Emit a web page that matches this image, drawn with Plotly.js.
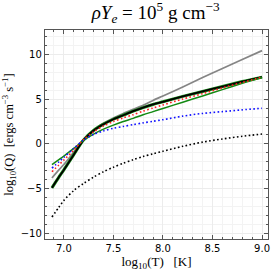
<!DOCTYPE html>
<html>
<head>
<meta charset="utf-8">
<script src="https://cdn.plot.ly/plotly-3.0.1.min.js"></script>
<style>html,body{margin:0;padding:0;background:#fff;}#chart{width:278px;height:278px;}</style>
</head>
<body>
<div id="chart"></div>
<script>
const logT = [6.88, 6.95, 7.0, 7.1, 7.2, 7.3, 7.4, 7.5, 7.6, 7.7, 7.8, 7.9, 8.0, 8.2, 8.4, 8.6, 8.8, 9.0];
const grayQ = [-3.8, -2.9, -2.3, -0.9, 0.5, 1.5, 2.3, 2.9, 3.4, 3.85, 4.3, 4.85, 5.35, 6.35, 7.4, 8.4, 9.4, 10.4];
const blackQ = [-4.9, -3.7, -2.9, -1.2, 0.45, 1.5, 2.2, 2.75, 3.2, 3.65, 4.05, 4.4, 4.7, 5.3, 5.85, 6.4, 6.95, 7.45];
const greenTopQ = [-4.9, -3.7, -2.9, -1.2, 0.45, 1.5, 2.2, 2.75, 3.2, 3.65, 4.05, 4.4, 4.7, 5.3, 5.85, 6.4, 6.95, 7.45];
const greenQ = [-2.3, -1.75, -1.35, -0.5, 0.4, 1.1, 1.65, 2.1, 2.5, 2.85, 3.25, 3.6, 3.95, 4.65, 5.35, 6.05, 6.75, 7.4];
const redQ = [-3.1, -2.35, -1.8, -0.7, 0.5, 1.35, 2.0, 2.5, 2.9, 3.25, 3.65, 4.0, 4.35, 5.0, 5.6, 6.25, 6.85, 7.45];
const blueQ = [-2.7, -2.0, -1.5, -0.5, 0.45, 1.05, 1.45, 1.75, 1.95, 2.15, 2.35, 2.52, 2.7, 3.1, 3.4, 3.6, 3.8, 3.97];
const blackDotQ = [-8.15, -7.05, -6.3, -5.2, -4.4, -3.7, -3.1, -2.6, -2.15, -1.75, -1.4, -1.1, -0.82, -0.27, 0.2, 0.55, 0.85, 1.1];

const xTicks = [7.0, 7.5, 8.0, 8.5, 9.0];
const xTickText = ['7.0', '7.5', '8.0', '8.5', '9.0'];
const yTicks = [-10, -5, 0, 5, 10];
const yTickText = ['\u221210', '\u22125', '0', '5', '10'];

const dotDash = '1.6px,2.4px';
const sm = 0.8;
const traces = [
  {x: logT, y: grayQ, mode: 'lines', line: {color: '#858585', width: 1.7, shape: 'spline', smoothing: sm}},
  {x: logT, y: greenTopQ, mode: 'lines', line: {color: '#1a8a1a', width: 3.0, shape: 'spline', smoothing: sm}},
  {x: logT, y: blackQ, mode: 'lines', line: {color: '#000000', width: 1.8, shape: 'spline', smoothing: sm}},
  {x: logT, y: greenQ, mode: 'lines', line: {color: '#138a13', width: 1.5, shape: 'spline', smoothing: sm}},
  {x: logT, y: redQ, mode: 'lines', line: {color: '#ff2020', width: 1.6, dash: dotDash, shape: 'spline', smoothing: sm}},
  {x: logT, y: blueQ, mode: 'lines', line: {color: '#1010ff', width: 1.6, dash: dotDash, shape: 'spline', smoothing: sm}},
  {x: logT, y: blackDotQ, mode: 'lines', line: {color: '#000000', width: 1.6, dash: dotDash, shape: 'spline', smoothing: sm}}
];

const axisCommon = {
  showline: true, linecolor: '#555555', linewidth: 1.2, mirror: 'ticks',
  ticks: 'inside', ticklen: 4, tickcolor: '#555555',
  showgrid: true, gridcolor: '#ececec', gridwidth: 1, zeroline: false,
  tickfont: {family: 'DejaVu Sans, sans-serif', size: 10, color: '#000'}
};

const layout = {
  width: 278, height: 278,
  margin: {l: 45, r: 10, t: 30, b: 39},
  paper_bgcolor: '#ffffff', plot_bgcolor: '#ffffff',
  showlegend: false,
  title: {
    text: '<i>\u03c1Y<sub>e</sub></i> = 10<sup>5</sup> g cm<sup>\u22123</sup>',
    font: {family: 'Liberation Serif, DejaVu Serif, serif', size: 19, color: '#000'},
    x: 0.56, xanchor: 'center', y: 0.955, yanchor: 'middle'
  },
  xaxis: Object.assign({}, axisCommon, {
    range: [6.81, 9.06], tickvals: xTicks, ticktext: xTickText,
    minor: {dtick: 0.1, ticks: 'inside', ticklen: 2, tickcolor: '#555555', showgrid: true, gridcolor: '#f3f3f3'},
    title: {text: 'log<sub>10</sub>(T)   [K]', font: {family: 'Liberation Serif, DejaVu Serif, serif', size: 13, color: '#000'}, standoff: 2}
  }),
  yaxis: Object.assign({}, axisCommon, {
    range: [-10.6, 12.7], tickvals: yTicks, ticktext: yTickText,
    minor: {dtick: 1, ticks: 'inside', ticklen: 2, tickcolor: '#555555', showgrid: true, gridcolor: '#f3f3f3'},
    title: {text: 'log<sub>10</sub>(Q)  [ergs cm<sup>\u22123</sup> s<sup>\u22121</sup>]', font: {family: 'Liberation Serif, DejaVu Serif, serif', size: 12.5, color: '#000'}, standoff: 4}
  })
};

Plotly.newPlot('chart', traces, layout, {staticPlot: true, displayModeBar: false});
</script>
</body>
</html>
